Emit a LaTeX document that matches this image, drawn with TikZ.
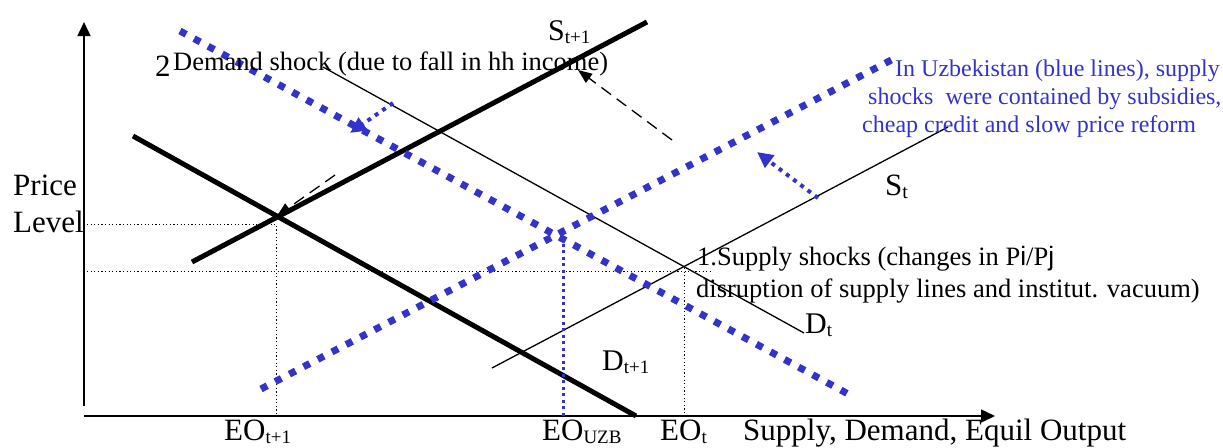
\documentclass[tikz,border=0pt]{standalone}
\usepackage{fontspec}
\setmainfont{Liberation Serif}
\setsansfont{Liberation Sans}
\usetikzlibrary{arrows.meta}
\definecolor{uzblue}{HTML}{3333CC}
\newcommand{\lowtext}[2]{\raisebox{-0.12em}{\fontsize{#1}{#1}\selectfont #2}}
\tikzset{
  axis/.style={line width=1.5pt,-{Triangle[length=14pt,width=13pt]}},
  thickcurve/.style={line width=5pt},
  thincurve/.style={line width=1.3pt},
  uzcurve/.style={draw=uzblue,line width=7pt,dash pattern=on 7pt off 9pt},
  guide/.style={line width=1pt,dash pattern=on 1.2pt off 2.4pt},
  uzguide/.style={draw=uzblue,line width=3pt,dash pattern=on 3pt off 3.5pt},
  shiftarrow/.style={line width=1.3pt,dash pattern=on 12pt off 7pt,-{Triangle[length=14pt,width=11pt]}},
  uzshift/.style={draw=uzblue,line width=4pt,dash pattern=on 4pt off 5pt,-{Triangle[length=16pt,width=15pt]}},
  lbl/.style={inner sep=0pt,anchor=base west,font=\fontsize{30}{36}\selectfont},
  biglbl/.style={lbl,font=\fontsize{31}{37}\selectfont},
  axislbl/.style={lbl,font=\fontsize{31}{37}\selectfont},
  note/.style={lbl,font=\fontsize{26.5}{32}\selectfont},
  uznote/.style={lbl,text=uzblue,font=\fontsize{24}{28}\selectfont}
}

\begin{document}
\begin{tikzpicture}[x=1pt,y=-1pt]
  \useasboundingbox (0,0) rectangle (1223,447);
  \coordinate (origin) at (84,416);
  \coordinate (ybase) at (84,406);
  \coordinate (ytip) at (84,22);
  \coordinate (xtip) at (995,416);
  \coordinate (dnext a) at (133,136);
  \coordinate (dnext b) at (636,416);
  \coordinate (snext a) at (192,262);
  \coordinate (snext b) at (647,22);
  \coordinate (dnow a) at (323,67);
  \coordinate (dnow b) at (804,333);
  \coordinate (snow a) at (492,368);
  \coordinate (snow b) at (948,127);
  \coordinate (duzb a) at (180,31);
  \coordinate (duzb b) at (850,395);
  \coordinate (suzb a) at (261,389);
  \coordinate (suzb b) at (899,56);
  \coordinate (eqnext) at (277,216);
  \coordinate (equzb) at (563,237);
  \coordinate (eqnow) at (684,268);
  \coordinate (pnext) at (87,224);
  \coordinate (qnext) at (276,416);
  \coordinate (pnow a) at (87,271);
  \coordinate (pnow b) at (710,271);
  \coordinate (dshift a) at (393,103);
  \coordinate (dshift b) at (350,133);
  \coordinate (sshift a) at (818,198);
  \coordinate (sshift b) at (757,152);
  \coordinate (snext shift a) at (672,140);
  \coordinate (snext shift b) at (578,70);
  \coordinate (dnext shift a) at (335,175);

  \draw[guide] (pnext) -| (qnext);
  \draw[guide] (pnow a) -- (pnow b);
  \draw[guide] (eqnow) -- (eqnow |- origin);
  \draw[axis] (ybase) -- (ytip);
  \draw[axis] (origin) -- (xtip);

  \draw[thincurve] (dnow a) -- (dnow b);
  \draw[thincurve] (snow a) -- (snow b);
  \draw[thickcurve] (dnext a) -- (dnext b);
  \draw[thickcurve] (snext a) -- (snext b);
  \draw[shiftarrow] (snext shift a) -- (snext shift b);
  \draw[shiftarrow] (dnext shift a) -- (eqnext);

  \draw[uzcurve] (duzb a) -- (duzb b);
  \draw[uzcurve] (suzb a) -- (suzb b);
  \draw[uzguide] (equzb) -- (equzb |- origin);
  \draw[uzshift] (dshift a) -- (dshift b);
  \draw[uzshift] (sshift a) -- (sshift b);

  \node[biglbl] (price) at (13,195) {Price};
  \node[biglbl] (level) at (13,232) {Level};
  \node[lbl] (snextlbl) at (548,40) {S\lowtext{19}{t+1}};
  \node[biglbl] (snowlbl) at (885,195) {S\lowtext{20}{t}};
  \node[lbl] (dnowlbl) at (805,333) {D\lowtext{19}{t}};
  \node[lbl] (dnextlbl) at (602,370) {D\lowtext{19}{t+1}};
  \node[axislbl] (eonext) at (224,440) {EO\lowtext{19}{t+1}};
  \node[axislbl] (eouzb) at (542,440) {EO\lowtext{19}{UZB}};
  \node[axislbl] (eonow) at (660,440) {EO\lowtext{19}{t}};
  \node[axislbl] (xlabel) at (743,440) {Supply, Demand, Equil Output};
  \node[biglbl] (shocknum) at (155,76) {2};
  \node[note] (demandnote) at (173,70) {Demand shock (due to fall in hh income)};
  \node[note] (supplynote) at (697,265) {1.Supply shocks (changes in P\textsf{i}/P\textsf{j}};
  \node[note] (supplynote2) at (696,297) {disruption of supply lines and institut. vacuum)};
  \node[uznote] (uznote1) at (895,76) {In Uzbekistan (blue lines), supply};
  \node[uznote] (uznote2) at (868,104) {shocks\ \ were contained by subsidies,};
  \node[uznote] (uznote3) at (862,132) {cheap credit and slow price reform};
\end{tikzpicture}
\end{document}
